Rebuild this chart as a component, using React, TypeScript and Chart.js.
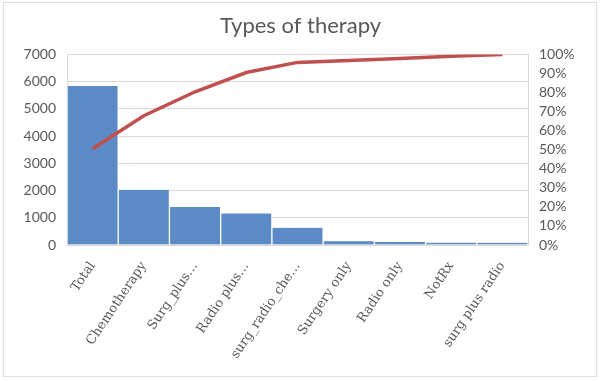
import React, { useEffect, useRef } from "react";
import { Chart, registerables } from "chart.js";

Chart.register(...registerables);

const categories = [
  "Total",
  "Chemotherapy",
  "Surg_plus…",
  "Radio plus…",
  "surg_radio_che…",
  "Surgery only",
  "Radio only",
  "NotRx",
  "surg plus radio",
];
const counts = [5840, 2030, 1400, 1160, 635, 135, 110, 85, 80];
const cumulativePct = [0.505, 0.678, 0.804, 0.905, 0.958, 0.968, 0.978, 0.99, 1.0];
const leftTicks = [0, 1000, 2000, 3000, 4000, 5000, 6000, 7000];
const rightTicks = [0, 0.1, 0.2, 0.3, 0.4, 0.5, 0.6, 0.7, 0.8, 0.9, 1.0];

export default function App() {
  const ref = useRef<HTMLCanvasElement | null>(null);

  useEffect(() => {
    document.body.style.margin = "0";
    if (!ref.current) return;
    const gray = "#595959";
    const chart = new Chart(ref.current, {
      type: "bar",
      data: {
        labels: categories,
        datasets: [
          {
            type: "line",
            data: cumulativePct,
            yAxisID: "y1",
            borderColor: "#C0504D",
            borderWidth: 3.5,
            pointRadius: 0,
            tension: 0,
            order: 0,
          } as any,
          {
            type: "bar",
            data: counts,
            yAxisID: "y",
            backgroundColor: "#5B8AC6",
            borderColor: "#FFFFFF",
            borderWidth: { left: 1, right: 1, top: 0, bottom: 0 },
            categoryPercentage: 1,
            barPercentage: 1,
            order: 1,
          } as any,
        ],
      },
      options: {
        animation: false,
        responsive: false,
        maintainAspectRatio: false,
        layout: { padding: 0 },
        plugins: {
          legend: { display: false },
          tooltip: { enabled: false },
          title: {
            display: true,
            text: "Types of therapy",
            color: gray,
            font: { family: "Lato", size: 22, weight: "normal" },
            padding: { top: 13, bottom: 15 },
          },
        },
        scales: {
          x: {
            grid: { display: false },
            border: { display: true, color: "#D9D9D9", width: 1 },
            ticks: {
              color: gray,
              font: { family: "DejaVu Serif", size: 13 },
              minRotation: 56,
              maxRotation: 56,
              autoSkip: false,
              padding: 6,
            },
            afterFit: (s: any) => {
              s.height = 136;
            },
          },
          y: {
            position: "left",
            min: 0,
            max: 7000,
            afterBuildTicks: (s: any) => {
              s.ticks = leftTicks.map((v) => ({ value: v }));
            },
            grid: { color: "#D9D9D9", drawTicks: false, lineWidth: 1 },
            border: { display: true, color: "#D9D9D9" },
            ticks: {
              color: gray,
              font: { family: "Lato", size: 14 },
              padding: 11,
              autoSkip: false,
              callback: (v: any) => String(v),
            },
            afterFit: (s: any) => {
              s.width = 67;
            },
          },
          y1: {
            position: "right",
            min: 0,
            max: 1,
            afterBuildTicks: (s: any) => {
              s.ticks = rightTicks.map((v) => ({ value: v }));
            },
            grid: { display: false, drawTicks: false },
            border: { display: true, color: "#D9D9D9" },
            ticks: {
              color: gray,
              font: { family: "Lato", size: 14 },
              padding: 11,
              autoSkip: false,
              callback: (v: any) => Math.round(Number(v) * 100) + "%",
            },
            afterFit: (s: any) => {
              s.width = 73;
            },
          },
        },
      },
    });
    return () => chart.destroy();
  }, []);

  return (
    <div style={{ position: "relative", width: 601, height: 381, background: "#fff" }}>
      <canvas ref={ref} width={601} height={381} style={{ position: "absolute", left: 0, top: 0 }} />
      <div
        style={{
          position: "absolute",
          left: 3,
          top: 2,
          width: 594,
          height: 375,
          border: "1px solid #E0E0E0",
          boxSizing: "border-box",
          pointerEvents: "none",
        }}
      />
    </div>
  );
}
